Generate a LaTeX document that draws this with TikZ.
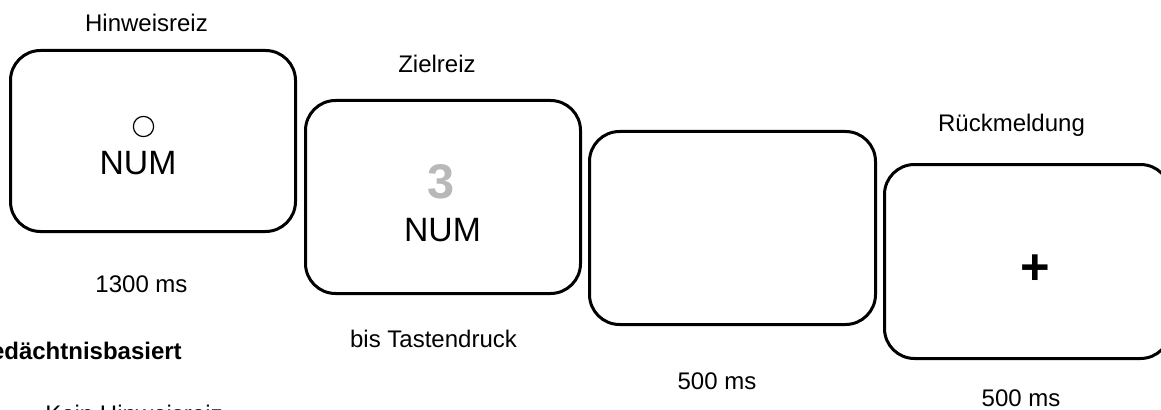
\documentclass[tikz,border=0pt]{standalone}
\usepackage{fontspec}
\setmainfont{Liberation Sans}
\begin{document}
\begin{tikzpicture}[x=0.75pt,y=-0.75pt,
  screen/.style={draw=black, line width=2.25pt, rounded corners=22.5pt,
    rectangle, inner sep=0pt, fill=white},
  lbl/.style={anchor=base, inner sep=0pt, font=\fontsize{18}{20}\selectfont},
  numtxt/.style={anchor=base, inner sep=0pt, font=\fontsize{25.3}{28}\selectfont}]
\useasboundingbox (0,0) rectangle (1161,410);
\clip (0,0) rectangle (1161,410);

% trial screens
\node[screen, minimum width=213.75pt, minimum height=135.75pt] (s1) at (153,141) {};
\node[screen, minimum width=206.25pt, minimum height=144.75pt] (s2) at (443,197) {};
\node[screen, minimum width=214.5pt, minimum height=144.75pt] (s3) at (732.5,228) {};
\node[screen, minimum width=214.5pt, minimum height=145.5pt] (s4) at (1027.5,261.5) {};

% screen contents
\draw[line width=0.9pt] (143.5,126.5) circle (7.6pt);
\node[numtxt] (num1) at (138,175) {NUM};
\node[anchor=base, inner sep=0pt, text=black!28,
  font=\fontsize{36.5}{40}\selectfont\bfseries] (target) at (441.5,198) {3};
\node[numtxt] (num2) at (442.5,241) {NUM};
\node[inner sep=0pt, font=\fontsize{38}{40}\selectfont\bfseries] (fb) at (1035,269.5) {+};

% titles
\node[lbl] (t1) at (146.5,32) {Hinweisreiz};
\node[lbl] (t2) at (437,73) {Zielreiz};
\node[lbl] (t4) at (1011.5,132) {Rückmeldung};

% durations
\node[lbl] (d1) at (141.5,292) {1300 ms};
\node[lbl] (d2) at (433.5,347) {bis Tastendruck};
\node[lbl] (d3) at (717,389) {500 ms};
\node[lbl] (d4) at (1021,406.5) {500 ms};

% condition labels
\node[anchor=base east, inner sep=0pt, font=\fontsize{18}{20}\selectfont\bfseries] (cond) at (182,359) {Gedächtnisbasiert};
\node[anchor=base west, inner sep=0pt, font=\fontsize{18}{20}\selectfont] (cue) at (45,422) {Kein Hinweisreiz};
\end{tikzpicture}
\end{document}
